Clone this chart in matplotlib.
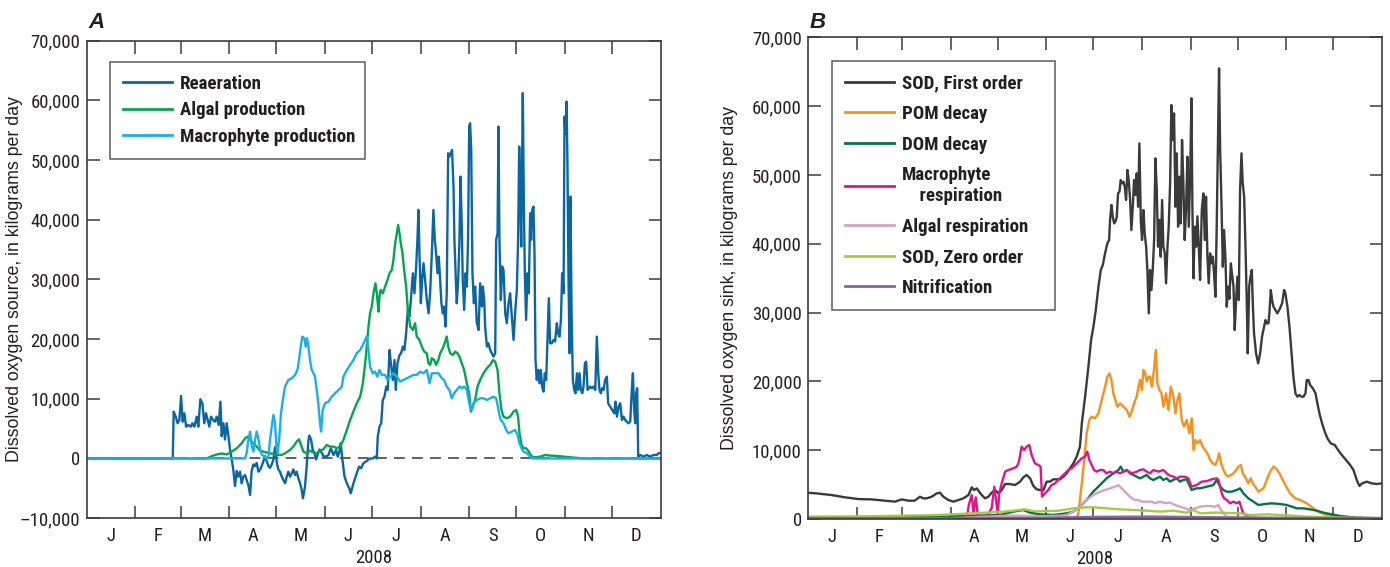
import matplotlib
matplotlib.use("Agg")
import matplotlib.pyplot as plt
from matplotlib import font_manager as fm
from matplotlib.ticker import FixedLocator, FuncFormatter, NullFormatter, FixedFormatter

# ---------------- data ----------------
month_starts = [0, 31, 60, 91, 121, 152, 182, 213, 244, 274, 305, 335, 366]
month_labels = ["J", "F", "M", "A", "M", "J", "J", "A", "S", "O", "N", "D"]
year_label = "2008"

# Panel A : sources (day of year, kg/day)
reaer_day = [0, 55.0, 55.6, 56.9, 58.1, 59.2, 60.3, 61.3, 62.4, 63.5, 64.9, 66.6, 67.5, 68.8, 70.3, 71.3, 72.6, 73.9, 75.1, 76.2, 77.3, 78.3, 79.4, 80.7, 81.9, 83.0, 84.3, 85.4, 86.2, 87.3, 88.3, 89.4, 90.5, 91.5, 92.6, 93.6, 94.7, 95.8, 96.8, 97.9, 98.9, 100.0, 101.1, 102.1, 103.2, 104.3, 105.3, 106.4, 107.5, 108.5, 109.6, 110.7, 111.7, 112.8, 113.8, 114.9, 116.0, 117.0, 118.1, 119.2, 120.2, 121.3, 122.3, 123.4, 124.5, 125.5, 126.6, 127.7, 128.7, 129.8, 130.9, 131.9, 133.0, 134.0, 135.1, 136.2, 137.2, 138.0, 139.3, 140.4, 141.5, 142.1, 143.2, 144.2, 145.3, 146.4, 147.4, 148.5, 150.0, 151.1, 152.8, 154.3, 155.8, 157.5, 159.2, 160.2, 161.3, 162.1, 163.2, 164.5, 166.0, 167.5, 168.5, 169.6, 170.9, 172.3, 173.8, 175.1, 176.6, 178.1, 179.4, 180.8, 182.5, 184.0, 185.1, 185.7, 186.8, 187.9, 188.9, 190.0, 191.1, 192.1, 193.2, 194.2, 195.3, 196.4, 197.2, 198.3, 199.6, 200.6, 201.7, 202.7, 203.8, 204.9, 205.9, 207.0, 208.1, 209.1, 210.2, 211.0, 211.7, 212.3, 213.2, 214.0, 214.9, 215.9, 217.0, 218.1, 219.1, 220.2, 221.2, 222.1, 222.9, 223.8, 224.6, 225.5, 226.3, 227.2, 228.0, 228.9, 229.7, 230.6, 231.4, 232.3, 233.1, 234.0, 234.6, 235.5, 236.1, 237.0, 237.8, 238.5, 239.3, 239.9, 240.8, 241.7, 242.5, 243.3, 244.0, 244.6, 245.3, 246.1, 247.0, 247.8, 248.9, 250.0, 251.0, 252.1, 252.7, 253.6, 254.2, 255.3, 256.3, 257.4, 258.4, 259.5, 260.6, 261.2, 262.1, 262.7, 263.3, 264.2, 265.0, 265.9, 267.0, 268.0, 269.1, 270.1, 271.2, 272.3, 273.3, 274.4, 275.2, 275.9, 276.5, 277.2, 277.8, 278.2, 278.9, 279.5, 280.3, 281.2, 282.0, 282.9, 283.5, 284.2, 285.0, 285.7, 286.3, 287.1, 288.0, 288.8, 289.7, 290.5, 291.4, 292.2, 293.1, 293.9, 294.8, 295.6, 296.7, 297.8, 298.8, 299.9, 300.7, 301.6, 302.5, 303.3, 304.2, 304.8, 305.4, 306.1, 306.7, 307.3, 308.0, 308.6, 309.3, 310.1, 311.0, 311.8, 312.7, 313.5, 314.4, 315.2, 316.1, 316.9, 317.8, 318.6, 319.5, 320.3, 321.2, 322.2, 323.3, 324.4, 325.4, 326.3, 327.1, 328.0, 328.8, 329.7, 330.7, 331.8, 332.6, 333.9, 335.2, 336.5, 337.3, 338.2, 339.3, 340.3, 341.4, 342.4, 343.5, 344.5, 345.6, 346.7, 347.7, 348.4, 349.2, 349.9, 350.5, 351.1, 351.8, 353.0, 355.2, 357.3, 359.4, 361.6, 363.7, 364.7, 366]
reaer_val = [0, 0, 7850, 7000, 5900, 6450, 10470, 6170, 7570, 5330, 5610, 5330, 5900, 5330, 7000, 5330, 9920, 9240, 5900, 7570, 6450, 5330, 7000, 6450, 6170, 7000, 5610, 9520, 3740, 5900, 3180, 5900, 3740, 1510, -170, -1840, -4630, -2110, -3040, -2210, -4160, -3040, -2780, -3600, -4440, -6110, -2110, -1000, -1280, -730, -2210, -1840, -1280, -450, 390, -450, -1280, -1560, -1000, -170, 1900, -610, -1840, -2210, -3040, -3600, -4160, -3040, -2210, -3040, -2480, -1840, -2780, -2210, -3320, -4160, -5270, -6670, -4710, -1280, 2980, 3850, 3180, 1510, 950, -170, 670, 1510, 950, 390, 310, 590, 1710, 590, 1430, 310, 1150, 2540, -250, -3030, -4150, -4990, -5830, -4710, -3590, -2480, -1360, -1640, -800, -520, -250, 0, 0, 310, 0, 3660, 5330, 5890, 9800, 10360, 12040, 11480, 18180, 15670, 13150, 16500, 11480, 15950, 17340, 17620, 18740, 18180, 20970, 24880, 23760, 27110, 31020, 27670, 32140, 36600, 41630, 34370, 26000, 29900, 32700, 29900, 26550, 24320, 27670, 34370, 41630, 36600, 34370, 31020, 33810, 29900, 26000, 24320, 25440, 22090, 27670, 51120, 50560, 51120, 51680, 45540, 36600, 29900, 26000, 29900, 36600, 47210, 38840, 29900, 24880, 31020, 28790, 36600, 55580, 56140, 51680, 31020, 26000, 28790, 22650, 21530, 29340, 25440, 28790, 26550, 22090, 18740, 19300, 18180, 17620, 17060, 17620, 36600, 37720, 55580, 36600, 26550, 32140, 31580, 24320, 22650, 26000, 27670, 23760, 19860, 24320, 28230, 36600, 52240, 44980, 35490, 50000, 61170, 42180, 31020, 23200, 31020, 27670, 41070, 36600, 41630, 42180, 33810, 16500, 13150, 14820, 12590, 14820, 12040, 11200, 14270, 13150, 19860, 26830, 19300, 19300, 19860, 19580, 22650, 20970, 20410, 23200, 31020, 27670, 57260, 54470, 59770, 48880, 31020, 17620, 43860, 24320, 13150, 11480, 10920, 14270, 11480, 14270, 11480, 10920, 12040, 15950, 16220, 11480, 11760, 12040, 11760, 12040, 11480, 20410, 14270, 11480, 10920, 11760, 11480, 13150, 13710, 9250, 8690, 8130, 7570, 9520, 7010, 8690, 9250, 6450, 7010, 6450, 6170, 5890, 6170, 11480, 14270, 8130, 5890, 10920, 11760, 310, 590, 310, 590, 310, 590, 590, 870, 900]

algal_day = [0, 76.6, 79.8, 83.0, 86.2, 89.4, 92.6, 95.8, 98.9, 101.1, 102.8, 104.3, 106.4, 108.5, 110.7, 112.8, 114.9, 117.0, 119.2, 121.3, 124.5, 126.6, 129.8, 131.9, 134.0, 135.5, 136.8, 138.3, 140.4, 142.5, 144.7, 146.8, 148.9, 151.0, 153.2, 155.3, 157.6, 159.6, 161.7, 163.8, 166.0, 168.1, 170.2, 172.3, 174.5, 176.2, 177.7, 178.7, 179.8, 180.8, 181.9, 183.0, 184.2, 185.1, 186.2, 186.8, 187.6, 188.9, 190.4, 191.9, 193.2, 194.7, 195.7, 196.8, 197.9, 198.7, 199.6, 200.4, 201.5, 202.5, 203.8, 204.9, 206.4, 208.1, 209.5, 210.6, 212.3, 213.8, 215.3, 217.0, 218.0, 219.1, 220.2, 221.7, 222.9, 224.4, 225.5, 227.2, 228.7, 229.7, 230.6, 231.9, 233.6, 235.1, 236.5, 237.8, 239.3, 240.8, 242.5, 244.0, 245.1, 246.3, 247.8, 249.3, 251.0, 253.1, 255.3, 257.4, 259.1, 260.6, 262.1, 263.3, 264.6, 265.9, 268.0, 270.1, 272.3, 274.0, 275.2, 276.1, 277.4, 278.6, 280.3, 282.0, 284.0, 286.1, 289.3, 292.5, 295.6, 299.9, 304.2, 308.4, 312.7, 317.0, 366]
algal_val = [0, 0, 390, 670, 840, 670, 1150, 1710, 2540, 3380, 3660, 3100, 2540, 2000, 1320, 1150, 980, 870, 760, 600, 600, 870, 1430, 2000, 2820, 3210, 2270, 1150, 870, 1320, 980, 870, 1320, 1540, 2270, 1990, 1990, 1710, 1990, 3100, 4780, 6450, 7850, 9250, 10360, 12590, 15950, 18740, 22090, 24320, 25440, 27670, 29340, 27670, 24600, 27110, 28230, 27670, 28790, 29900, 31020, 31580, 33250, 36040, 37720, 39120, 37720, 36040, 34370, 31580, 28790, 24880, 22090, 21530, 22650, 20410, 19860, 18740, 17900, 17620, 15950, 15670, 16780, 16500, 15670, 16500, 17620, 18460, 19580, 20410, 18740, 17620, 17340, 17900, 17620, 17060, 15950, 14820, 12590, 10920, 7850, 8690, 9800, 12040, 13150, 14270, 15110, 15670, 16500, 16220, 14820, 10920, 8130, 7010, 6730, 7010, 7850, 8130, 7010, 4220, 2270, 1710, 1710, 1150, 310, 200, 310, 590, 480, 430, 310, 200, 100, 0, 0]

macro_day = [0, 101.1, 102.1, 103.2, 104.3, 105.3, 106.4, 107.5, 108.5, 109.6, 110.7, 111.7, 113.4, 114.9, 116.0, 117.0, 118.1, 119.2, 120.2, 121.1, 121.9, 123.0, 124.0, 125.5, 126.6, 128.7, 130.9, 133.0, 134.5, 135.5, 136.6, 137.6, 138.9, 139.8, 140.6, 141.5, 142.5, 143.6, 144.7, 145.7, 146.8, 147.8, 148.9, 149.6, 150.6, 152.1, 154.3, 156.4, 158.5, 160.7, 162.8, 163.8, 166.0, 168.1, 170.2, 172.3, 174.5, 176.2, 177.7, 178.7, 179.8, 180.8, 182.5, 184.0, 185.5, 186.8, 188.3, 190.4, 191.9, 193.6, 195.7, 197.9, 200.0, 202.1, 204.2, 206.4, 208.5, 210.6, 212.7, 214.9, 217.0, 218.7, 220.2, 222.3, 224.4, 226.6, 228.0, 229.7, 231.4, 232.9, 234.4, 236.1, 237.8, 239.3, 240.8, 242.5, 244.0, 245.1, 246.8, 248.9, 251.0, 253.1, 255.3, 257.4, 259.5, 261.2, 262.3, 263.3, 264.2, 265.9, 267.6, 269.1, 271.2, 273.3, 274.8, 276.1, 277.4, 278.6, 280.8, 282.9, 284.6, 366]
macro_val = [0, 0, 870, 3100, 4500, 2270, 1150, 3100, 4500, 3380, 1430, 670, 280, 100, 300, 3100, 5330, 7290, 5900, 2000, 950, 3660, 7570, 10360, 12040, 13150, 13430, 14000, 14830, 16500, 18740, 20410, 20130, 18740, 20130, 18740, 16500, 14830, 14270, 13710, 11480, 9240, 5900, 4500, 8130, 9250, 9520, 10360, 10920, 11480, 12040, 13710, 14820, 15670, 16500, 17620, 18180, 19020, 19860, 20410, 18180, 15390, 14270, 14550, 13710, 14820, 14000, 14000, 13150, 13710, 14270, 13710, 12870, 13150, 13430, 13710, 14000, 14000, 14550, 14270, 14820, 12590, 14270, 14270, 14270, 13430, 13150, 12040, 11480, 10080, 10920, 11480, 12040, 11760, 12040, 11480, 9250, 8130, 9250, 9800, 10080, 10080, 9800, 10080, 10360, 10080, 8690, 7290, 6450, 5890, 4780, 4220, 4500, 4780, 3940, 2540, 1710, 1150, 870, 310, 0, 0]

# Panel B : sinks (day of year, kg/day)
sod1_day = [0, 5, 15.1, 23.6, 32.1, 40.6, 49.1, 55.5, 59.7, 64, 68, 71.4, 73.5, 75.7, 78.9, 82.1, 84.2, 86.3, 89.5, 92.7, 95.9, 99.1, 102.3, 104.4, 105.9, 107.6, 109.1, 110.8, 112.9, 115.0, 117.1, 119.3, 121.4, 123.5, 125.7, 128.8, 132.0, 135.2, 137.3, 139.4, 141.6, 143.7, 145.9, 147.9, 150.1, 152.2, 154.3, 156.4, 158.6, 160.7, 162.8, 164.9, 167.1, 169.2, 171.3, 173.4, 174.6, 176.7, 178.8, 180.5, 182.0, 183.5, 185.2, 186.7, 188.0, 189.4, 190.9, 192.0, 192.6, 193.5, 194.3, 195.2, 196.0, 196.9, 197.7, 198.6, 199.4, 200.3, 201.1, 202.0, 202.8, 203.7, 204.5, 205.4, 206.2, 207.1, 207.9, 208.8, 209.6, 210.5, 211.3, 212.2, 213.0, 213.9, 214.7, 215.6, 216.4, 217.3, 218.1, 219.0, 219.8, 220.7, 221.5, 222.4, 223.2, 224.1, 224.9, 225.8, 226.6, 227.5, 228.3, 229.2, 230.0, 230.9, 231.7, 232.6, 233.4, 234.3, 235.1, 236.0, 236.8, 237.7, 238.5, 239.4, 240.2, 241.1, 241.9, 242.8, 243.7, 244.5, 245.1, 245.8, 246.6, 247.5, 248.3, 249.2, 250.0, 251.1, 252.1, 253.0, 253.8, 254.7, 255.5, 256.4, 257.2, 258.1, 258.9, 259.8, 260.6, 261.5, 262.1, 262.8, 263.6, 264.5, 265.3, 266.2, 267.0, 267.9, 268.7, 269.6, 270.4, 271.3, 272.1, 273.0, 273.8, 274.7, 275.5, 276.4, 277.2, 278.1, 278.9, 279.8, 280.4, 281.3, 282.1, 283.0, 283.6, 284.4, 285.7, 287.0, 288.3, 289.5, 290.8, 291.7, 292.5, 293.6, 294.2, 295.1, 295.9, 296.8, 298.0, 299.3, 301.0, 302.3, 303.6, 304.4, 305.7, 307.0, 308.3, 309.5, 310.8, 312.1, 313.4, 314.6, 315.9, 317.2, 318.0, 319.1, 320.2, 321.9, 323.6, 324.8, 326.1, 327.8, 329.5, 331.2, 333.3, 335.9, 338.0, 340.4, 343.1, 345.7, 347.8, 349.9, 351.6, 353.3, 356.3, 359.5, 362.7, 366]
sod1_val = [3820, 3730, 3480, 3150, 2900, 2850, 2660, 2520, 2850, 2660, 2660, 3240, 3000, 3000, 3240, 3730, 3820, 3240, 2760, 2520, 2760, 3000, 3480, 4600, 4210, 4450, 3970, 3480, 3000, 3240, 3820, 4210, 3730, 4210, 5080, 5080, 4940, 5420, 6050, 6400, 5910, 4790, 4310, 4220, 4210, 5430, 5430, 5770, 5770, 5770, 6150, 6640, 7370, 8090, 9060, 10510, 13900, 17780, 22140, 26020, 27950, 30380, 33770, 36190, 36920, 38610, 40070, 40550, 43460, 45640, 43940, 42970, 43210, 43940, 47330, 47580, 49270, 48790, 49030, 48300, 46370, 50730, 49270, 46370, 42000, 45390, 49270, 47090, 50240, 45390, 54600, 43460, 40550, 44910, 41520, 39580, 36190, 29890, 36190, 33280, 36190, 40550, 52420, 47820, 39580, 43460, 38130, 46370, 39580, 38610, 34250, 39580, 42490, 48790, 60170, 55090, 58960, 45390, 53150, 42490, 49760, 42970, 55090, 48300, 40550, 45390, 52660, 42490, 50240, 61140, 45390, 34980, 42490, 39580, 44000, 39580, 34740, 44910, 47330, 40550, 46850, 38130, 34250, 38610, 37160, 38130, 35710, 32310, 42490, 56050, 65500, 53630, 46370, 36670, 42000, 37640, 30860, 33770, 32000, 37160, 35500, 33770, 27470, 32000, 35220, 31830, 47820, 53150, 48790, 46850, 40070, 31350, 24080, 33770, 35220, 36190, 31350, 26990, 24080, 22620, 24080, 26500, 27950, 28920, 28440, 28440, 29890, 33280, 31830, 30860, 30380, 29890, 30620, 31350, 33280, 32800, 30860, 27950, 24080, 20690, 18260, 17780, 18020, 17780, 17780, 18260, 20200, 20200, 19480, 18990, 18260, 16810, 15360, 13900, 12690, 11720, 10990, 10750, 10030, 9300, 8570, 7850, 7120, 5670, 4800, 5180, 5430, 5180, 5090, 5180]

pom_day = [0, 60, 100, 120, 140, 160, 171.4, 172.4, 174.6, 176.3, 177.7, 179.4, 180.9, 183.0, 185.2, 187.3, 189.4, 190.9, 192.2, 193.5, 194.7, 196.0, 197.3, 199.0, 201.1, 203.3, 205.0, 206.4, 207.9, 209.6, 210.7, 211.8, 212.8, 213.9, 215.0, 216.0, 217.1, 218.1, 219.2, 220.7, 221.8, 222.8, 224.1, 225.4, 226.6, 228.3, 229.8, 231.3, 233.0, 234.3, 235.6, 236.8, 238.3, 239.8, 241.5, 243.2, 244.7, 245.8, 247.1, 248.5, 250.0, 251.7, 253.2, 254.7, 256.4, 258.1, 259.6, 261.1, 262.1, 263.4, 264.9, 266.6, 268.1, 269.6, 271.3, 273.0, 274.4, 276.0, 277.2, 278.7, 280.8, 282.3, 283.6, 285.1, 287.2, 290.4, 292.5, 294.6, 296.8, 298.5, 300.6, 302.7, 304.9, 307.4, 310.6, 313.8, 318.0, 322.3, 326.5, 330.8, 335.0, 343.5, 356.3, 366]
pom_val = [150, 200, 250, 400, 300, 200, 200, 820, 5180, 9060, 12450, 14390, 14870, 14630, 15360, 17290, 19230, 20690, 21170, 20200, 18260, 17290, 16330, 16810, 16330, 15840, 14870, 15600, 16810, 17780, 19230, 20200, 18750, 21660, 21170, 19960, 20690, 20690, 19230, 21900, 24560, 19720, 18750, 18260, 16330, 18260, 15840, 19230, 17780, 15360, 17290, 18260, 14390, 13420, 14390, 12450, 14630, 10030, 11480, 11000, 11480, 10510, 10000, 9540, 8570, 8090, 7850, 8570, 9540, 8090, 7120, 6400, 6150, 6400, 6640, 7120, 7600, 7850, 6640, 6150, 5180, 5910, 5180, 4700, 3970, 4460, 5670, 6880, 7600, 7360, 6640, 5670, 4700, 3730, 3000, 2760, 2280, 1550, 920, 580, 340, 100, 0, 0]

dom_day = [0, 40, 80, 95, 110, 122.4, 130.9, 137.3, 141.5, 147.9, 156.4, 164.9, 169.2, 173.4, 177.7, 181.9, 186.2, 190.4, 194.7, 197.9, 199.4, 201.1, 203.2, 205.3, 207.4, 209.6, 211.7, 213.8, 215.9, 218.1, 220.2, 222.3, 224.4, 226.6, 228.7, 230.8, 232.9, 235.1, 237.2, 239.3, 241.5, 244.6, 247.8, 250.0, 254.3, 258.5, 260.6, 262.8, 264.9, 267.0, 270.2, 273.4, 275.5, 277.6, 280.8, 284.0, 287.2, 291.5, 295.7, 301.0, 305.3, 308.5, 311.7, 315.9, 320.2, 324.4, 328.7, 332.9, 339.3, 347.8, 356.3, 366]
dom_val = [200, 250, 300, 400, 500, 580, 1070, 1310, 920, 680, 580, 820, 1070, 1790, 2760, 3970, 4940, 5910, 6640, 7120, 7610, 6880, 7120, 6640, 6400, 6150, 5910, 6150, 6400, 5910, 5670, 5910, 6150, 5670, 5910, 5430, 5670, 5910, 5430, 5670, 5770, 4220, 4460, 4460, 4700, 4940, 5670, 4700, 4220, 3970, 3970, 4220, 4460, 3730, 3000, 2520, 2030, 2180, 2280, 2180, 2030, 1790, 1550, 1550, 1400, 1210, 920, 730, 440, 240, 150, 100]

mresp_day = [0, 100.1, 101.5, 102.5, 104.4, 105.5, 107.0, 108.3, 109.6, 113.9, 117.1, 118.8, 119.9, 121.0, 121.9, 123.5, 125.7, 127.7, 130.9, 133.1, 134.5, 136.2, 137.8, 139.4, 141.1, 142.6, 144.7, 146.9, 148.3, 149.2, 151.1, 153.2, 155.3, 157.5, 159.6, 161.7, 163.9, 166.0, 168.1, 170.2, 172.4, 174.5, 176.6, 178.1, 179.4, 180.9, 182.4, 184.1, 186.2, 188.3, 190.4, 192.6, 194.7, 196.8, 198.9, 201.1, 203.2, 206.4, 209.6, 211.7, 213.8, 216.0, 218.1, 220.2, 223.4, 226.6, 229.8, 233.0, 235.1, 237.2, 240.4, 242.5, 244.6, 247.8, 251.0, 254.2, 257.4, 260.6, 261.7, 262.8, 263.8, 265.3, 267.0, 269.1, 271.3, 273.4, 275.1, 276.4, 277.6, 279.8, 281.9, 284, 366]
mresp_val = [0, 0, 500, 2000, 3480, 820, 3150, 500, 340, 340, 1550, 4700, 2760, 580, 3730, 5180, 6880, 7120, 7370, 7600, 8330, 10510, 10030, 10510, 10750, 9300, 8090, 7850, 7610, 3250, 3730, 4220, 4940, 5180, 5670, 6150, 6640, 7120, 7370, 7850, 8330, 8820, 9060, 9790, 8570, 7850, 7120, 6880, 7120, 7120, 6640, 6880, 6640, 6880, 6640, 6880, 7120, 6640, 6880, 7120, 7220, 6880, 6640, 7120, 6880, 7120, 6400, 6150, 5910, 6150, 6150, 5910, 4700, 4940, 5430, 5500, 5770, 5910, 5670, 4700, 3730, 3000, 2760, 2280, 2520, 2280, 2520, 1550, 820, 440, 100, 0, 0]

aresp_day = [0, 90, 110, 130, 150, 160, 164.9, 169.2, 173.4, 177.7, 181.9, 186.2, 189.2, 192.6, 195.7, 197.9, 200.0, 202.1, 204.2, 206.4, 208.5, 210.6, 212.8, 215.9, 219.1, 221.3, 224.4, 227.6, 230.8, 234.0, 237.2, 240.4, 243.6, 246.8, 250.0, 253.2, 256.3, 259.5, 261.7, 262.7, 264.9, 267.0, 269.8, 280, 300, 330, 366]
aresp_val = [50, 100, 300, 500, 400, 450, 580, 1070, 1790, 2760, 3490, 3970, 4220, 4460, 4700, 4940, 4460, 3970, 3490, 3000, 2760, 2760, 2520, 2520, 2520, 2280, 2520, 2280, 2400, 2030, 1790, 1550, 1310, 1550, 1790, 1890, 1890, 1790, 2030, 1550, 830, 340, 240, 200, 150, 100, 50]

sod0_day = [0, 40, 83, 104, 125, 138.4, 145, 160, 169.2, 177.7, 182, 190.4, 198.9, 207.4, 215.9, 224.4, 232.9, 241.5, 245.8, 250, 258.3, 262.8, 275.5, 281.9, 292.5, 305.3, 318, 335, 356.3, 366]
sod0_val = [340, 400, 580, 820, 1060, 1400, 1100, 1210, 1550, 1700, 1700, 1550, 1400, 1310, 1210, 1070, 1210, 920, 1310, 820, 920, 920, 820, 580, 680, 530, 340, 240, 150, 150]

nitr_day = [0, 150, 180, 220, 260, 300, 366]
nitr_val = [80, 100, 250, 300, 200, 120, 80]

labels_A = ["Reaeration", "Algal production", "Macrophyte production"]
colors_A = ["#0a66a3", "#00a650", "#1aafea"]
labels_B = ["SOD, First order", "POM decay", "DOM decay", "Macrophyte\n    respiration",
            "Algal respiration", "SOD, Zero order", "Nitrification"]
colors_B = ["#3a3a3a", "#f7901e", "#00754a", "#e0148c", "#d9a1c4", "#a5cd3a", "#8d5fa6"]

ylabel_A = "Dissolved oxygen source, in kilograms per day"
ylabel_B = "Dissolved oxygen sink, in kilograms per day"

# ---------------- fonts ----------------
names = {f.name for f in fm.fontManager.ttflist}
cond_family = None
for cand in ["Liberation Sans Narrow", "Roboto Condensed", "Open Sans Condensed"]:
    if cand in names:
        cond_family = cand
        break
has_dejavu_cond = any(f.name == "DejaVu Sans" and f.stretch in ("condensed", "semi-condensed")
                      for f in fm.fontManager.ttflist)
if cond_family is not None:
    COND = dict(family=cond_family)
elif has_dejavu_cond:
    COND = dict(family="DejaVu Sans", stretch="condensed")
else:
    COND = dict(family="Liberation Sans")
REG = "Liberation Sans" if "Liberation Sans" in names else "DejaVu Sans"

plt.rcParams["font.family"] = REG
SPINE = "#3c3c3c"
TXT = "#231f20"
W, H = 1390, 567
TICKFS = 13.5

fig = plt.figure(figsize=(W / 100, H / 100), dpi=100)
axA = fig.add_axes([86.5 / W, 1 - 518.2 / H, 574 / W, (518.2 - 40.5) / H])
axB = fig.add_axes([808 / W, 1 - 519 / H, 574 / W, (519 - 37.4) / H])


def fmt(v, pos):
    s = "{:,.0f}".format(abs(v))
    return ("\u2013" + s) if v < 0 else s


def style_axes(ax, ylo, yhi, ylabel, label_x):
    ax.set_xlim(0, 366)
    ax.set_ylim(ylo, yhi)
    for sp in ax.spines.values():
        sp.set_color(SPINE)
        sp.set_linewidth(1.2)
    ax.xaxis.set_major_locator(FixedLocator(month_starts[1:-1]))
    ax.xaxis.set_major_formatter(NullFormatter())
    mids = [(month_starts[i] + month_starts[i + 1]) / 2 for i in range(12)]
    ax.xaxis.set_minor_locator(FixedLocator(mids))
    ax.xaxis.set_minor_formatter(FixedFormatter(month_labels))
    ax.yaxis.set_major_locator(FixedLocator(list(range(ylo, yhi + 1, 10000))))
    ax.yaxis.set_major_formatter(FuncFormatter(fmt))
    ax.tick_params(which="major", direction="in", length=9, width=1.1, color=SPINE,
                   top=True, right=True, pad=4.5)
    ax.tick_params(axis="x", which="minor", length=0, pad=6.5)
    for t in ax.get_xticklabels(minor=True) + ax.get_yticklabels():
        t.set_fontsize(TICKFS)
        for k, v in COND.items():
            getattr(t, "set_" + ("fontfamily" if k == "family" else k))(v)
        t.set_color(TXT)
    ax.set_xlabel(year_label, fontsize=TICKFS, labelpad=3, color=TXT, **COND)
    ax.set_ylabel(ylabel, fontsize=12.8, color=TXT)
    ax.yaxis.set_label_coords(label_x, 0.5)


def add_legend(ax, x0_px, top_px, width_px, ax_left, ax_bottom, ax_h, spacing):
    bx = (x0_px - ax_left) / 574
    by = (ax_bottom - top_px) / ax_h
    leg = ax.legend(loc="upper left", bbox_to_anchor=(bx, by - 0.01, width_px / 574, 0.01),
                    mode="expand", borderaxespad=0, frameon=True, fancybox=False,
                    edgecolor="#333333", handlelength=2.6, handletextpad=0.4,
                    labelspacing=spacing, borderpad=0.7,
                    prop=dict(size=13.6, weight="bold", **COND))
    leg.get_frame().set_linewidth(1.1)
    for t in leg.get_texts():
        t.set_color(TXT)
    for h in leg.get_lines():
        h.set_linewidth(2.0)
    return leg


# ---------------- panel A ----------------
axA.axhline(0, color="#555555", lw=1.3, ls=(0, (6, 4)), zorder=1)
for d, v, c, lab in zip([reaer_day, algal_day, macro_day], [reaer_val, algal_val, macro_val],
                        colors_A, labels_A):
    axA.plot(d, v, color=c, lw=1.7, label=lab, zorder=2, solid_joinstyle="round")
style_axes(axA, -10000, 70000, ylabel_A, -0.110)
add_legend(axA, 110, 61.7, 255, 86.5, 518.2, 477.7, 0.44)

# ---------------- panel B ----------------
series_B = [(sod1_day, sod1_val), (pom_day, pom_val), (dom_day, dom_val), (mresp_day, mresp_val),
            (aresp_day, aresp_val), (sod0_day, sod0_val), (nitr_day, nitr_val)]
for (d, v), c, lab in zip(series_B, colors_B, labels_B):
    lw = 2.2 if lab == "Nitrification" else 1.7
    axB.plot(d, v, color=c, lw=lw, label=lab, zorder=2, solid_joinstyle="round")
style_axes(axB, 0, 70000, ylabel_B, -0.122)
add_legend(axB, 832, 61, 223, 808, 519, 481.6, 0.67)

# panel letters
fig.text(88 / W, 1 - 28 / H, "A", fontsize=16, weight="bold", style="italic", ha="left", va="baseline", color=TXT)
fig.text(810 / W, 1 - 28 / H, "B", fontsize=16, weight="bold", style="italic", ha="left", va="baseline", color=TXT)

fig.savefig("out.png", dpi=100)
